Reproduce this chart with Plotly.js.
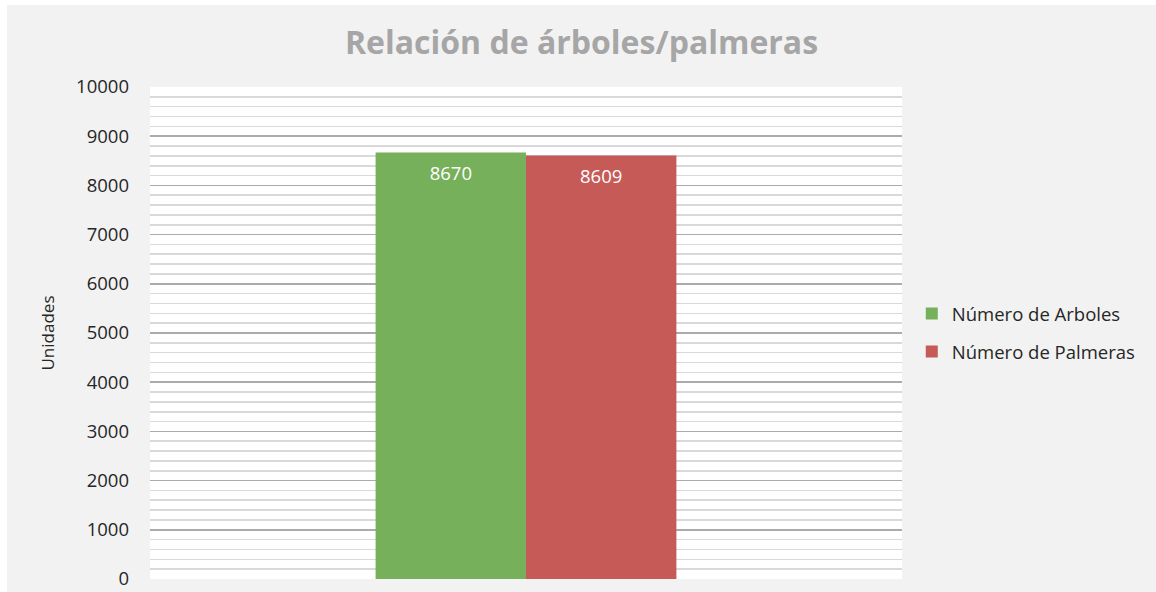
<!DOCTYPE html>
<html>
<head>
<meta charset="utf-8">
<script src="https://cdn.plot.ly/plotly-3.0.1.min.js"></script>
<style>
  html, body { margin: 0; padding: 0; background: #ffffff; width: 1156px; height: 592px; overflow: hidden; }
  #chart { position: absolute; left: 7px; top: 5px; width: 1149px; height: 587px; }
</style>
</head>
<body>
<div id="chart"></div>
<script>
// Data
const categories = ["Relación"];
const seriesNames = ["Número de Arboles", "Número de Palmeras"];
const arboles = [8670];
const palmeras = [8609];
const tickValues = [0, 1000, 2000, 3000, 4000, 5000, 6000, 7000, 8000, 9000, 10000];
const tickLabels = ["0", "1000", "2000", "3000", "4000", "5000", "6000", "7000", "8000", "9000", "10000"];

const mainFont = "Open Sans, DejaVu Sans, sans-serif";
const labelFont = { family: mainFont, size: 18.5, color: "#ffffff" };
const labelTemplate = "<span style='font-size:1px'>&nbsp;</span><br>%{text}";

const traces = [
  {
    type: "bar", x: categories, y: arboles, name: seriesNames[0],
    marker: { color: "#77b05b" },
    text: arboles.map(String), texttemplate: labelTemplate,
    textposition: "inside", insidetextanchor: "end", textangle: 0,
    insidetextfont: labelFont, hoverinfo: "none", legendgroup: "a"
  },
  {
    type: "bar", x: categories, y: palmeras, name: seriesNames[1],
    marker: { color: "#c55a57" },
    text: palmeras.map(String), texttemplate: labelTemplate,
    textposition: "inside", insidetextanchor: "end", textangle: 0,
    insidetextfont: labelFont, hoverinfo: "none", legendgroup: "b"
  }
];

const layout = {
  width: 1149, height: 587,
  paper_bgcolor: "#f2f2f2",
  plot_bgcolor: "#ffffff",
  margin: { l: 143, r: 254, t: 82, b: 13, pad: 0 },
  barmode: "group",
  bargap: 0.6,
  bargroupgap: 0,
  showlegend: true,
  title: {
    text: "<b>Relación de árboles/palmeras</b>",
    font: { family: mainFont, size: 32, color: "#a6a6a6" },
    x: 0.5, xanchor: "center", xref: "container",
    y: 0.935, yanchor: "middle", yref: "container"
  },
  xaxis: {
    type: "category", showticklabels: false, showgrid: false, zeroline: false,
    showline: false, ticks: "", fixedrange: true
  },
  yaxis: {
    range: [0, 10000], tickmode: "array", tickvals: tickValues, ticktext: tickLabels,
    showgrid: true, gridcolor: "#ababab", gridwidth: 1.6,
    minor: { dtick: 200, showgrid: true, gridcolor: "#d9d9d9", gridwidth: 1.6, ticks: "" },
    zeroline: false, showline: false, ticks: "",
    ticklabelstandoff: 20,
    tickfont: { family: mainFont, size: 18.5, color: "#262626" },
    title: {
      text: "Unidades",
      font: { family: mainFont, size: 17, color: "#262626" },
      standoff: 17
    },
    fixedrange: true
  },
  legend: {
    x: 1.013, xanchor: "left", y: 0.5, yanchor: "middle",
    traceorder: "grouped", tracegroupgap: 11,
    bgcolor: "rgba(0,0,0,0)",
    font: { family: mainFont, size: 18.5, color: "#262626" }
  }
};

Plotly.newPlot("chart", traces, layout, { displayModeBar: false, staticPlot: true });
</script>
</body>
</html>
